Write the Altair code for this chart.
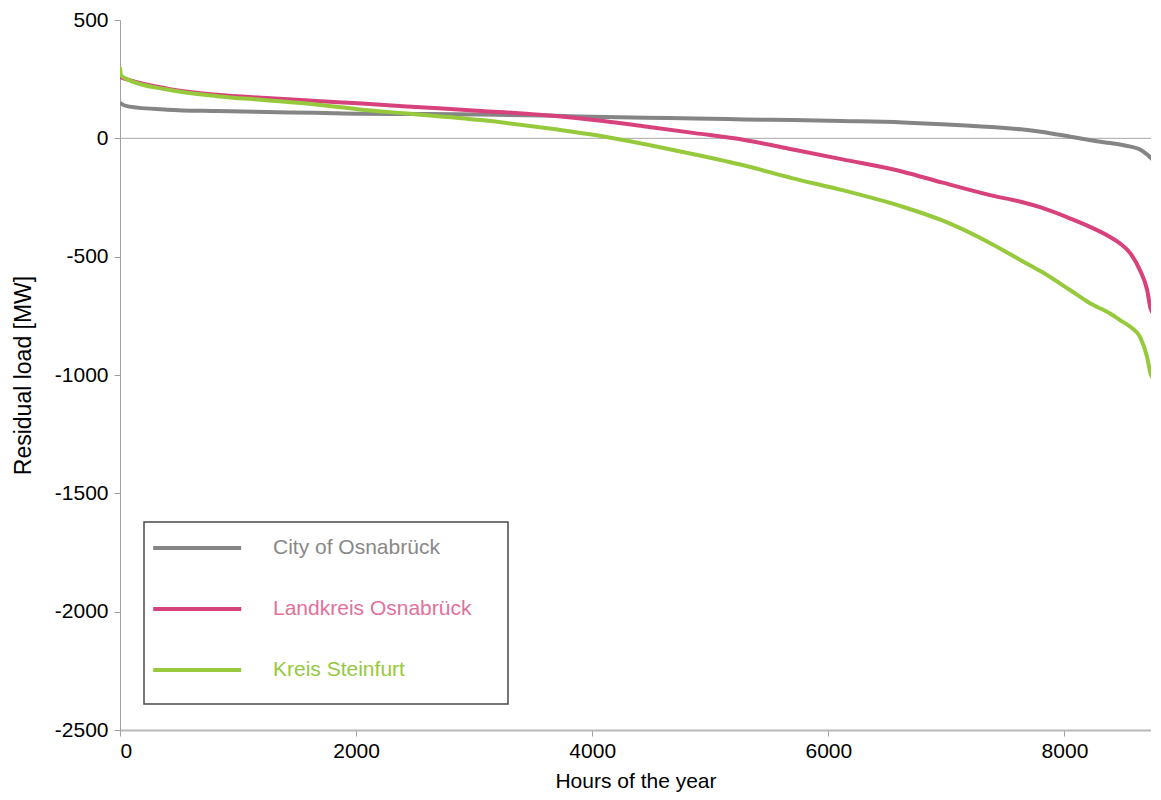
import altair as alt
import pandas as pd

# Hours of the year (x) at which values were read
hours = [0, 8, 67, 400, 820, 1240, 1660, 2050, 2430, 3060, 3690, 4110, 4450,
         4870, 5290, 5700, 6120, 6630, 6960, 7380, 7630, 7800, 8050, 8220,
         8390, 8470, 8560, 8640, 8700, 8730, 8760]

# Residual load [MW]
city_osnabrueck = [152, 147, 135, 121, 115, 111, 108, 104, 103, 101, 95, 90, 87,
                   84, 80, 77, 73, 67, 60, 48, 38, 28, 7, -8,
                   -20, -26, -35, -47, -68, -82, -95]
landkreis_osnabrueck = [265, 258, 248, 210, 184, 170, 158, 147, 135, 116, 94, 72, 50,
                        22, -7, -47, -89, -141, -186, -241, -268, -292, -339, -375,
                        -418, -444, -487, -558, -640, -720, -745]
kreis_steinfurt = [300, 267, 248, 206, 178, 161, 143, 121, 105, 77, 38, 7, -25,
                   -68, -115, -169, -219, -289, -346, -445, -515, -562, -642, -698,
                   -741, -768, -797, -839, -924, -995, -1020]

series_names = ["City of Osnabrück", "Landkreis Osnabrück", "Kreis Steinfurt"]
line_colors = ["#858585", "#d8427c", "#97c93d"]
label_colors = ["#888888", "#e2709c", "#95c93d"]

y_ticks = [500, 0, -500, -1000, -1500, -2000, -2500]
x_ticks = [0, 2000, 4000, 6000, 8000]

rows = []
for name, vals in zip(series_names, [city_osnabrueck, landkreis_osnabrueck, kreis_steinfurt]):
    for h, v in zip(hours, vals):
        rows.append({"series": name, "hour": h, "load": v})
df = pd.DataFrame(rows)

FONT = "Liberation Sans"

color_expr = "".join(
    f"datum.value === '{n}' ? '{c}' : " for n, c in zip(series_names[:-1], label_colors[:-1])
) + f"'{label_colors[-1]}'"

x_scale = alt.Scale(domain=[0, 8733], nice=False)
y_scale = alt.Scale(domain=[-2500, 500], nice=False)

zero = alt.Chart(pd.DataFrame({"load": [0]})).mark_rule(
    color="#a8a8a8", strokeWidth=1
).encode(y=alt.Y("load:Q", scale=y_scale))

lines = alt.Chart(df).mark_line(strokeWidth=4, interpolate="monotone", clip=True).encode(
    x=alt.X("hour:Q", scale=x_scale,
            axis=alt.Axis(title="Hours of the year", values=x_ticks,
                          labelExpr="toString(datum.value)",
                          grid=False, tickSize=6, labelPadding=4, titlePadding=9,
                          titleFontSize=21,
                          domainColor="#b8b8b8", domainWidth=2, tickColor="#a0a0a0")),
    y=alt.Y("load:Q", scale=y_scale,
            axis=alt.Axis(title="Residual load [MW]", values=y_ticks,
                          labelExpr="toString(datum.value)",
                          grid=False, tickSize=6, labelPadding=6, titlePadding=19,
                          titleFontSize=23,
                          domainColor="#a0a0a0", domainWidth=1, tickColor="#a0a0a0")),
    color=alt.Color("series:N", sort=series_names,
                    scale=alt.Scale(domain=series_names, range=line_colors),
                    legend=alt.Legend(
                        title="\u00a0", titleOrient="bottom", titleFontSize=1, titlePadding=13,
                        orient="none", legendX=24, legendY=502,
                        symbolType="M-1.2,0H5.0857M22.8,0", symbolSize=784, symbolStrokeWidth=4,
                        labelOffset=87, labelLimit=500, rowPadding=35,
                        labelColor={"expr": color_expr},
                    )),
    detail="series:N",
)

chart = alt.layer(zero, lines).properties(
    width=1031, height=710,
    autosize=alt.AutoSizeParams(type="none"),
    padding={"left": 112, "top": 12, "right": 0, "bottom": 62},
).configure_view(stroke=None).configure_axis(
    labelFont=FONT, titleFont=FONT, labelFontSize=21,
    titleFontWeight="normal", labelColor="#000000", titleColor="#000000",
).configure_legend(
    labelFont=FONT, labelFontSize=21, padding=10,
    strokeColor="#4a4a4a", strokeWidth=1.5, fillColor="#ffffff",
)

chart.save("out.html", embed_options={"renderer": "svg", "actions": False})
